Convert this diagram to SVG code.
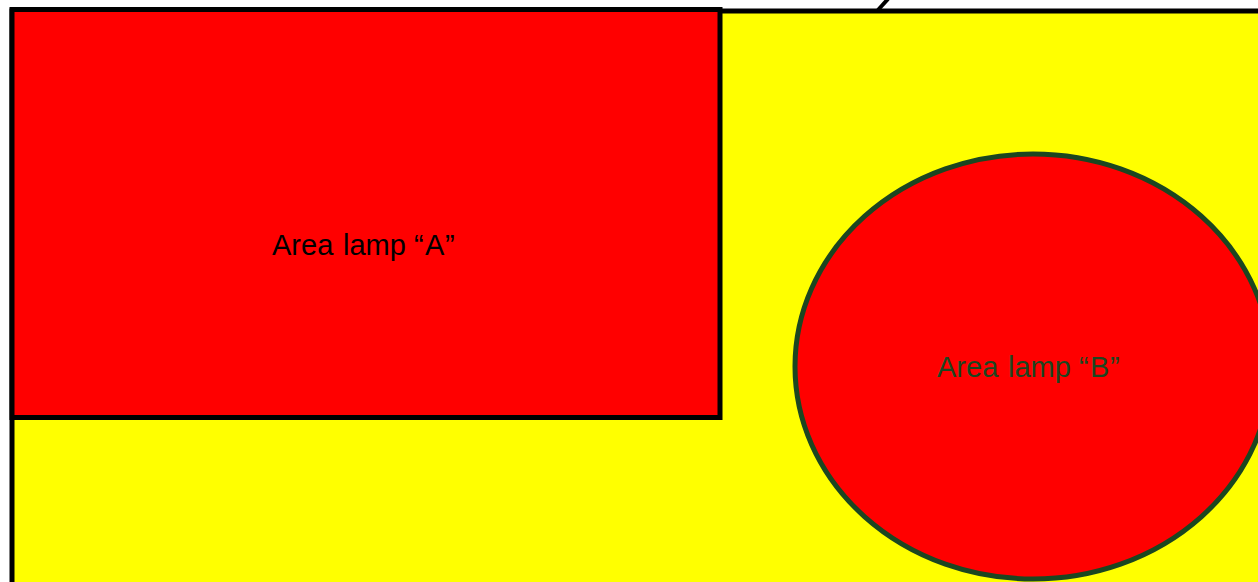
<svg xmlns="http://www.w3.org/2000/svg" width="1258" height="582" viewBox="0 0 1258 582">
<style>
.lbl{font-family:"Liberation Sans",Arial,sans-serif;font-size:29px}
</style>
<rect width="1258" height="582" fill="#ffffff"/>
<g id="area">
<polygon points="12,11 1262,11 1262,590 12,590" fill="#ffff00" stroke="#000" stroke-width="5"/>
<line x1="878" y1="10" x2="888" y2="-1" stroke="#000" stroke-width="4"/>
</g>
<g id="lampA">
<rect x="12" y="9.5" width="708" height="408" fill="#ff0000" stroke="#000" stroke-width="5"/>
<text class="lbl" y="255" fill="#000"><tspan x="272">Area</tspan><tspan x="343">lamp</tspan><tspan x="414">“</tspan><tspan x="425">A</tspan><tspan x="445">”</tspan></text>
</g>
<g id="lampB">
<ellipse cx="1033" cy="366.5" rx="238" ry="212.5" fill="#ff0000" stroke="#1b4620" stroke-width="5"/>
<text class="lbl" y="377" fill="#1b4620"><tspan x="937">Area</tspan><tspan x="1008">lamp</tspan><tspan x="1079">“</tspan><tspan x="1090">B</tspan><tspan x="1110">”</tspan></text>
</g>
<g id="connectors"></g>
</svg>
